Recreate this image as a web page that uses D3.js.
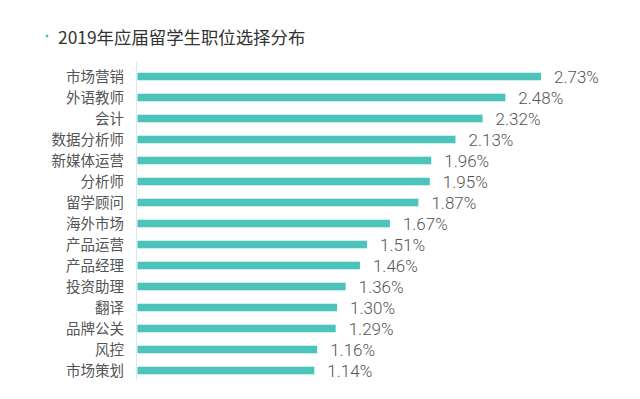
<!DOCTYPE html>
<html>
<head>
<meta charset="utf-8">
<script src="https://cdn.jsdelivr.net/npm/d3@7"></script>
<style>
    html, body { margin: 0; padding: 0; background: #fff; }
    svg { display: block; }
</style>
</head>
<body>
<svg id="chart" width="640" height="399"></svg>
<script>
"use strict"

var title      = "2019年应届留学生职位选择分布";
var categories = ["市场营销", "外语教师", "会计", "数据分析师", "新媒体运营",
                  "分析师", "留学顾问", "海外市场", "产品运营", "产品经理",
                  "投资助理", "翻译", "品牌公关", "风控", "市场策划"];
var values     = [2.73, 2.48, 2.32, 2.13, 1.96,
                  1.95, 1.87, 1.67, 1.51, 1.46,
                  1.36, 1.30, 1.29, 1.16, 1.14];

var barColor  = '#4cc4bb';
var textColor = '#555';
var cjkFont   = '"Noto Sans CJK SC", "Noto Sans", sans-serif';
var numFont   = 'Roboto, "Liberation Sans", Arial, sans-serif';

var svg = d3.select('#chart');

var rows = categories.map((c, i) => ({ label: c, value: values[i] }));

// the source axis does not start exactly at zero
var x = d3.scaleLinear()
    .domain([-0.1, 2.8])
    .range([137.5, 551]);

var y = d3.scaleBand()
    .domain(categories)
    .range([66, 381])
    .paddingInner(0.64)
    .paddingOuter(0.32);

// title with small dot
svg.append('circle')
    .attr('cx', 47)
    .attr('cy', 36)
    .attr('r', 1.4)
    .style('fill', barColor);

svg.append('text')
    .attr('x', 58)
    .attr('y', 44)
    .attr('font-family', cjkFont)
    .attr('font-size', '17.4px')
    .style('fill', '#333')
    .text(title);

// axis line
svg.append('line')
    .attr('x1', 136.5)
    .attr('x2', 136.5)
    .attr('y1', 62)
    .attr('y2', 380)
    .style('stroke', '#dbe8ea')
    .style('stroke-width', 1);

svg.selectAll('rect.bar').data(rows)
    .enter()
    .append('rect')
    .attr('class', 'bar')
    .attr('x', x.range()[0])
    .attr('y', d => y(d.label))
    .attr('width', d => x(d.value) - x.range()[0])
    .attr('height', y.bandwidth())
    .style('fill', barColor);

svg.selectAll('text.cat').data(rows)
    .enter()
    .append('text')
    .attr('class', 'cat')
    .attr('x', 124)
    .attr('y', d => y(d.label) + y.bandwidth() / 2)
    .attr('dy', '0.36em')
    .attr('text-anchor', 'end')
    .attr('font-family', cjkFont)
    .attr('font-size', '14.5px')
    .style('fill', textColor)
    .text(d => d.label);

svg.selectAll('text.val').data(rows)
    .enter()
    .append('text')
    .attr('class', 'val')
    .attr('x', d => x(d.value) + 13)
    .attr('y', d => y(d.label) + y.bandwidth() / 2)
    .attr('dy', '0.37em')
    .attr('font-family', numFont)
    .attr('font-weight', 300)
    .attr('font-size', '17px')
    .style('fill', textColor)
    .text(d => d.value.toFixed(2) + '%');
</script>
</body>
</html>
